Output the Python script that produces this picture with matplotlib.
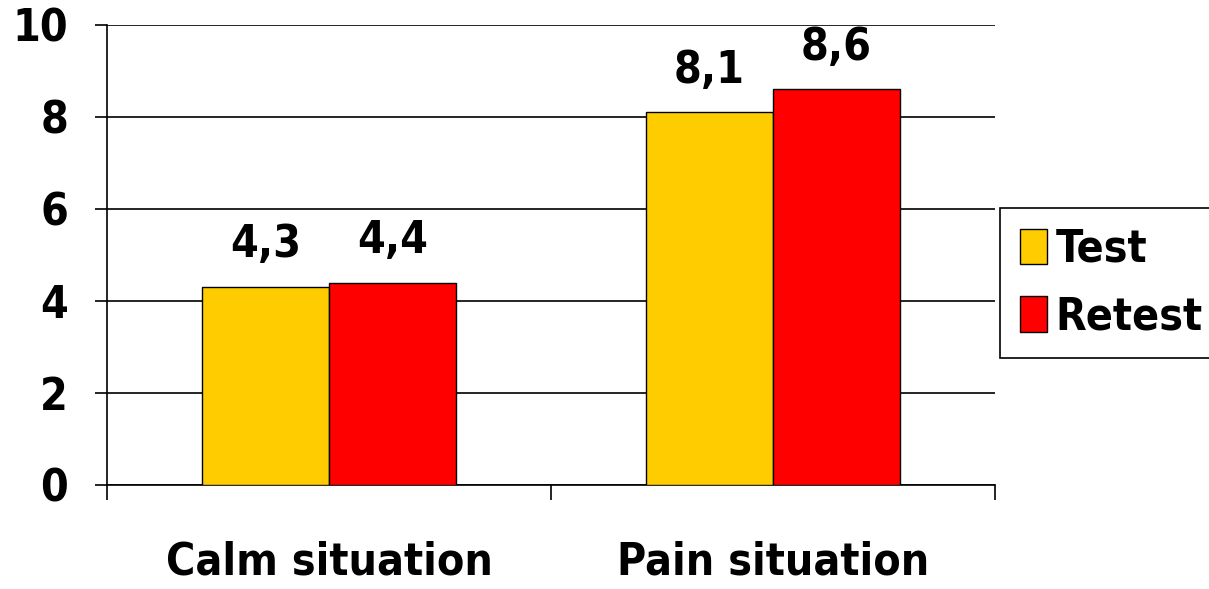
import matplotlib.pyplot as plt
import numpy as np

categorias = ["Calm situation", "Pain situation"]
series = ["Test", "Retest"]
test = [4.3, 8.1]
retest = [4.4, 8.6]
etiquetas_test = ["4,3", "8,1"]
etiquetas_retest = ["4,4", "8,6"]
colores = ["#FFCC00", "#FF0000"]

fuente = dict(family="DejaVu Sans", weight="bold", stretch="condensed", size=32)

fig = plt.figure(figsize=(12.09, 5.89), dpi=100)
ax = fig.add_axes([107 / 1209, 1 - 485 / 589, 888 / 1209, 460 / 589])

x = np.arange(len(categorias)) + 0.5
ancho = 0.286
b1 = ax.bar(x - ancho / 2, test, ancho, color=colores[0], edgecolor="black", linewidth=1, label=series[0], zorder=3)
b2 = ax.bar(x + ancho / 2, retest, ancho, color=colores[1], edgecolor="black", linewidth=1, label=series[1], zorder=3)

for barras, etiquetas in ((b1, etiquetas_test), (b2, etiquetas_retest)):
    for barra, texto in zip(barras, etiquetas):
        ax.annotate(texto, (barra.get_x() + barra.get_width() / 2, barra.get_height()),
                    xytext=(0, 15), textcoords="offset points", ha="center", va="bottom", **fuente)

ax.set_xlim(0, 2)
ax.set_ylim(0, 10)
ax.set_yticks([0, 2, 4, 6, 8, 10])
ax.set_yticklabels(["0", "2", "4", "6", "8", "10"], **fuente)
ax.yaxis.grid(True, color="black", linewidth=1.2, zorder=0)
ax.set_xticks([0, 1, 2])
ax.set_xticklabels([])
ax.set_xticks(x, minor=True)
ax.set_xticklabels(categorias, minor=True, **fuente)
ax.tick_params(axis="x", which="major", length=11, width=1.2, direction="out")
ax.tick_params(axis="x", which="minor", length=0, pad=40)
ax.tick_params(axis="y", length=9, width=1.2, pad=19)
for lado in ("top", "right"):
    ax.spines[lado].set_visible(False)
for lado in ("left", "bottom"):
    ax.spines[lado].set_linewidth(1.2)

leg = fig.legend(loc="upper left", bbox_to_anchor=(1000 / 1209, 1 - 208 / 589),
                 prop=dict(family="DejaVu Sans", weight="bold", stretch="condensed", size=32),
                 frameon=True, fancybox=False, edgecolor="black", framealpha=1,
                 handlelength=0.6, handleheight=0.85, handletextpad=0.2, borderpad=0.45,
                 labelspacing=0.55, borderaxespad=0)
leg.get_frame().set_linewidth(1.2)

fig.savefig("out.png", dpi=100)
